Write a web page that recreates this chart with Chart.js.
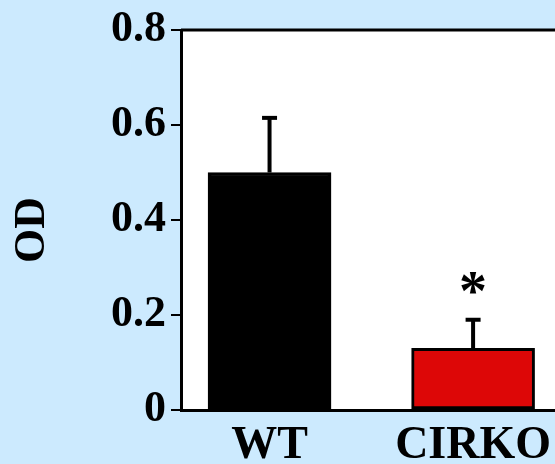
<!DOCTYPE html>
<html>
<head>
<meta charset="utf-8">
<script src="https://cdn.jsdelivr.net/npm/chart.js@4.4.1/dist/chart.umd.min.js"></script>
<style>
  html, body { margin: 0; padding: 0; background: #cceafe; overflow: hidden; width: 555px; height: 464px; }
  #wrap { width: 640px; height: 464px; }
</style>
</head>
<body>
<div id="wrap"><canvas id="c" width="640" height="464"></canvas></div>
<script>
// Optical density per genotype (mean and standard error)
const categories = ['WT', 'CIRKO'];
const odMeans = [0.50, 0.13];
const odSem = [0.115, 0.06];
const significance = ['', '*'];
const yTickValues = [0, 0.2, 0.4, 0.6, 0.8];
const yTitle = 'OD';
const barColors = ['#000000', '#dd0707'];

const FONT = '"Liberation Serif", "Times New Roman", serif';
const BG = '#cceafe';

// Panel background, white plot area, top frame line and the rotated axis title
const panelPlugin = {
  id: 'panel',
  beforeDraw(chart) {
    const { ctx, chartArea: a, width, height } = chart;
    ctx.save();
    ctx.fillStyle = BG;
    ctx.fillRect(0, 0, width, height);
    ctx.fillStyle = '#ffffff';
    ctx.fillRect(a.left, a.top, a.right - a.left, a.bottom - a.top);
    ctx.restore();
  },
  afterDraw(chart) {
    const { ctx, chartArea: a, width } = chart;
    ctx.save();
    ctx.strokeStyle = '#000';
    ctx.lineWidth = 3;
    ctx.beginPath();
    ctx.moveTo(a.left, a.top);
    ctx.lineTo(width, a.top);
    ctx.stroke();
    ctx.translate(33, (a.top + a.bottom) / 2 + 10);
    ctx.rotate(-Math.PI / 2);
    ctx.fillStyle = '#000';
    ctx.font = 'bold 44px ' + FONT;
    ctx.textAlign = 'center';
    ctx.textBaseline = 'middle';
    ctx.fillText(yTitle, 0, 0);
    ctx.restore();
  }
};

// Upper error bars (mean + SEM) and significance markers
const errorBarPlugin = {
  id: 'errorBars',
  afterDatasetsDraw(chart) {
    const { ctx } = chart;
    const y = chart.scales.y;
    const meta = chart.getDatasetMeta(0);
    ctx.save();
    ctx.strokeStyle = '#000';
    ctx.fillStyle = '#000';
    meta.data.forEach((bar, i) => {
      const x = bar.x;
      const yBase = y.getPixelForValue(odMeans[i]);
      const yTop = y.getPixelForValue(odMeans[i] + odSem[i]);
      ctx.lineWidth = 4;
      ctx.lineCap = 'butt';
      ctx.beginPath();
      ctx.moveTo(x, yBase);
      ctx.lineTo(x, yTop);
      ctx.stroke();
      ctx.beginPath();
      ctx.moveTo(x - 7.5, yTop);
      ctx.lineTo(x + 7.5, yTop);
      ctx.stroke();
      if (significance[i]) {
        ctx.font = 'bold 56px ' + FONT;
        ctx.textAlign = 'center';
        ctx.textBaseline = 'alphabetic';
        ctx.fillText(significance[i], x, yTop - 10);
      }
    });
    ctx.restore();
  }
};

new Chart(document.getElementById('c'), {
  type: 'bar',
  data: {
    datasets: [{
      data: odMeans.map((v, i) => ({ x: i + 1, y: v })),
      backgroundColor: barColors,
      borderColor: '#000000',
      borderWidth: 3,
      borderSkipped: false,
      barThickness: 123
    }]
  },
  options: {
    responsive: false,
    animation: false,
    devicePixelRatio: 1,
    layout: { padding: { top: 30, left: 0, right: 0, bottom: 0 } },
    plugins: { legend: { display: false }, tooltip: { enabled: false } },
    scales: {
      x: {
        type: 'linear',
        offset: false,
        bounds: 'ticks',
        min: 0.565,
        max: 2.82,
        afterBuildTicks(scale) {
          scale.ticks = categories.map((_, i) => ({ value: i + 1 }));
        },
        afterFit(scale) {
          scale.height = 54;
          scale.paddingLeft = 0;
          scale.paddingRight = 0;
        },
        grid: { display: true, drawOnChartArea: false, drawTicks: false, offset: false },
        border: { display: true, color: '#000', width: 3 },
        ticks: {
          autoSkip: false,
          maxRotation: 0,
          padding: 9,
          color: '#000',
          font: { family: FONT, size: 46, weight: 'bold' },
          callback: (v) => categories[v - 1] ?? ''
        }
      },
      y: {
        min: 0,
        max: 0.8,
        afterBuildTicks(scale) {
          scale.ticks = yTickValues.map(v => ({ value: v }));
        },
        afterFit(scale) {
          scale.width = 181;
          scale.paddingTop = 0;
          scale.paddingBottom = 0;
        },
        grid: { drawOnChartArea: false, drawTicks: true, tickLength: 10, color: '#000', lineWidth: 2 },
        border: { display: true, color: '#000', width: 3 },
        ticks: {
          padding: 5,
          color: '#000',
          font: { family: FONT, size: 44, weight: 'bold' },
          callback: (v) => String(v)
        },
        title: { display: false }
      }
    }
  },
  plugins: [panelPlugin, errorBarPlugin]
});
</script>
</body>
</html>
